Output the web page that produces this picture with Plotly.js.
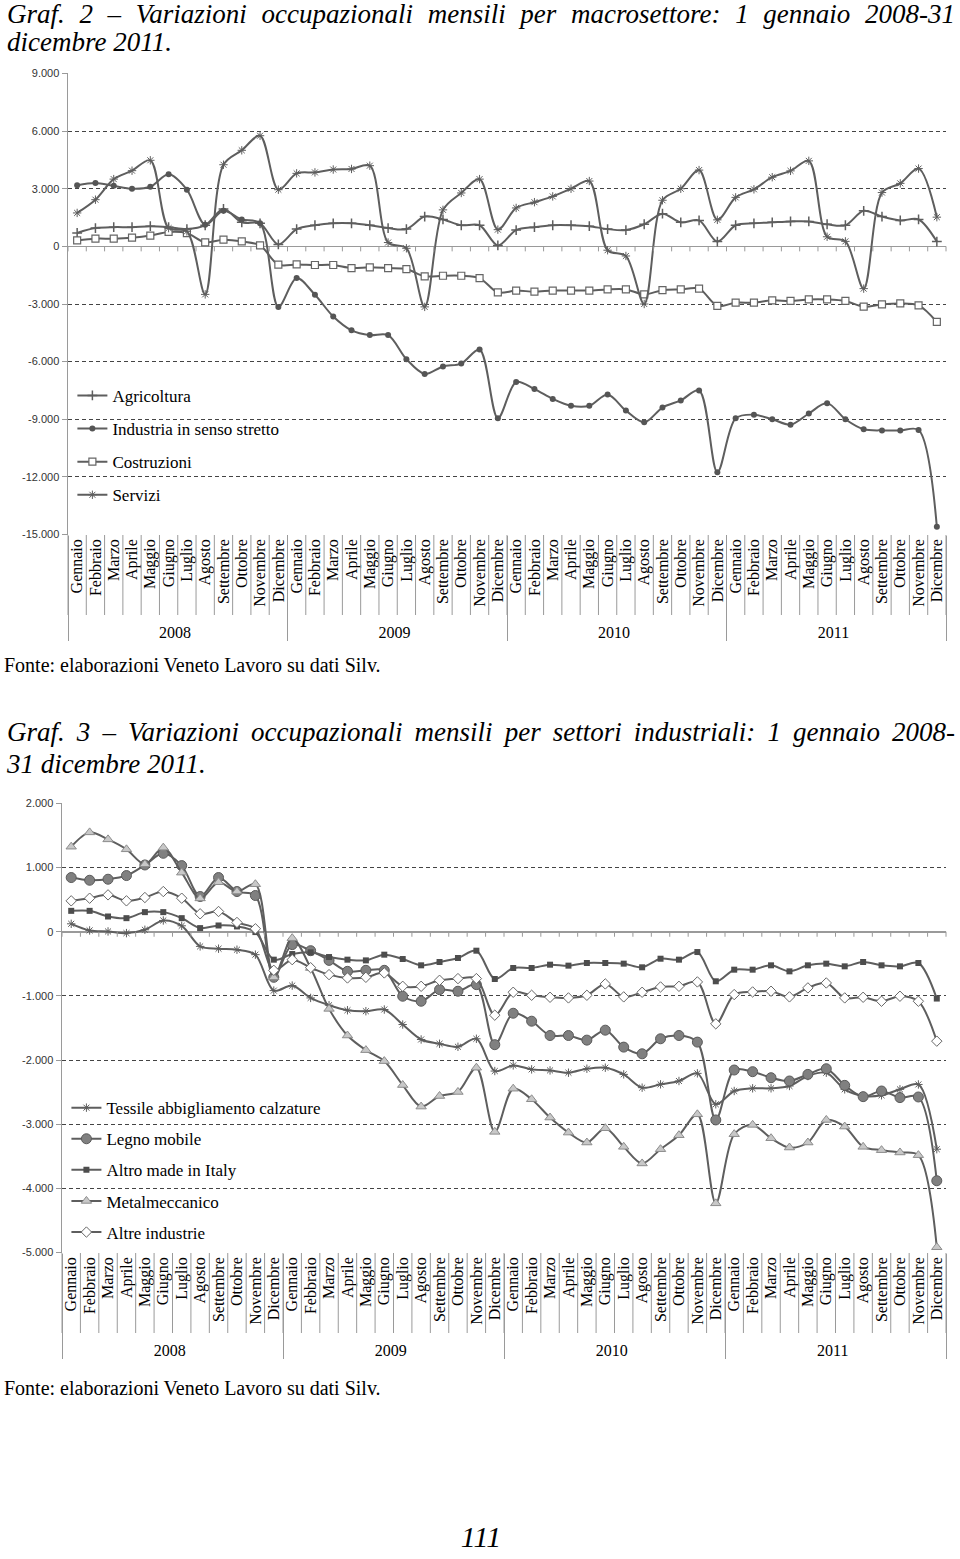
<!DOCTYPE html>
<html>
<head>
<meta charset="utf-8">
<script src="https://cdn.plot.ly/plotly-3.0.1.min.js"></script>
<style>
    body { margin: 0; width: 960px; height: 1559px; background: #fff; position: relative; overflow: hidden;
           font-family: "Liberation Serif", "Times New Roman", serif; color: #000; }
    .title { position: absolute; left: 7px; width: 948px; font-style: italic; font-size: 27px; line-height: 28px;
             text-align: justify; text-align-last: justify; }
    .title.last { text-align-last: left; }
    .fonte { position: absolute; left: 4px; font-size: 20px; line-height: 22px; }
    .chart { position: absolute; left: 0; width: 960px; }
    .page { position: absolute; left: 0; width: 962px; top: 1522px; text-align: center; font-style: italic; font-size: 30px; line-height: 30px; }
</style>
</head>
<body>
<div class="title" style="top:0px">Graf. 2 – Variazioni occupazionali mensili per macrosettore: 1 gennaio 2008-31</div>
<div class="title last" style="top:28px">dicembre 2011.</div>
<div id="graf2" class="chart" style="top:55px;height:595px"></div>
<div class="fonte" style="top:654px">Fonte: elaborazioni Veneto Lavoro su dati Silv.</div>

<div class="title" style="top:718px">Graf. 3 – Variazioni occupazionali mensili per settori industriali: 1 gennaio 2008-</div>
<div class="title last" style="top:750px">31 dicembre 2011.</div>
<div id="graf3" class="chart" style="top:785px;height:590px"></div>
<div class="fonte" style="top:1377px">Fonte: elaborazioni Veneto Lavoro su dati Silv.</div>

<div class="page">111</div>

<script>
// ---------------------------------------------------------------------------
// Dati
// ---------------------------------------------------------------------------
const months = ['Gennaio', 'Febbraio', 'Marzo', 'Aprile', 'Maggio', 'Giugno',
                'Luglio', 'Agosto', 'Settembre', 'Ottobre', 'Novembre', 'Dicembre'];
const years = ['2008', '2009', '2010', '2011'];

// Graf. 2 - macrosettori
const agricoltura = [
    700, 950, 1000, 1000, 1050, 1000, 900, 1100, 1950, 1250, 1200, 100,
    900, 1100, 1200, 1200, 1100, 950, 900, 1550, 1400, 1100, 1100, 50,
    850, 1000, 1100, 1100, 1050, 900, 850, 1150, 1700, 1250, 1350, 250,
    1100, 1200, 1250, 1300, 1300, 1150, 1100, 1850, 1550, 1350, 1400, 250
];
const industria = [
    3180, 3300, 3150, 3000, 3100, 3750, 2950, 1130, 1850, 1400, 1200, -3150,
    -1650, -2520, -3650, -4370, -4620, -4620, -5870, -6640, -6250, -6100, -5370, -8950,
    -7060, -7430, -7940, -8300, -8300, -7710, -8550, -9160, -8390, -8020, -7500, -11760,
    -8950, -8760, -9000, -9280, -8700, -8160, -9000, -9520, -9580, -9580, -9560, -14600
];
const costruzioni = [
    310, 400, 400, 450, 560, 750, 690, 210, 350, 260, 50, -950,
    -940, -970, -970, -1130, -1090, -1130, -1180, -1560, -1530, -1530, -1650, -2400,
    -2300, -2360, -2300, -2300, -2300, -2240, -2240, -2500, -2280, -2240, -2200, -3100,
    -2930, -2930, -2810, -2840, -2760, -2760, -2840, -3140, -3020, -2970, -3070, -3930
];
const servizi = [
    1740, 2430, 3500, 3940, 4480, 950, 780, -2500, 4250, 5000, 5760, 2950,
    3800, 3850, 4000, 4030, 4200, 200, -100, -3150, 1900, 2780, 3500, 870,
    2000, 2300, 2600, 3000, 3400, -200, -500, -3000, 2400, 3000, 3970, 1380,
    2550, 2970, 3600, 3930, 4450, 500, 260, -2200, 2800, 3280, 4050, 1520
];
const ticks2 = [9000, 6000, 3000, 0, -3000, -6000, -9000, -12000, -15000];

// Graf. 3 - settori industriali
const tessile = [
    124, 21, 5, -21, 31, 176, 93, -228, -264, -280, -357, -917,
    -839, -1031, -1145, -1223, -1238, -1212, -1446, -1679, -1746, -1793, -1668, -2171,
    -2083, -2145, -2161, -2197, -2135, -2119, -2223, -2430, -2378, -2326, -2207, -2689,
    -2482, -2440, -2440, -2404, -2249, -2197, -2456, -2560, -2549, -2456, -2380, -3389
];
const legno = [
    845, 803, 819, 876, 1041, 1223, 1031, 549, 845, 627, 565, -710,
    -200, -295, -446, -617, -601, -601, -1005, -1083, -902, -927, -824, -1760,
    -1270, -1394, -1617, -1617, -1689, -1534, -1798, -1902, -1668, -1617, -1720, -2933,
    -2155, -2181, -2275, -2326, -2223, -2135, -2394, -2570, -2482, -2585, -2575, -3881
];
const altroMade = [
    326, 326, 238, 212, 306, 306, 212, 57, 98, 83, -5, -435,
    -347, -321, -394, -435, -446, -357, -425, -523, -471, -409, -295, -736,
    -565, -565, -513, -528, -487, -487, -497, -554, -420, -435, -316, -772,
    -591, -591, -523, -617, -523, -497, -539, -471, -523, -539, -487, -1041
];
const metalmeccanico = [
    1326, 1549, 1440, 1285, 1052, 1311, 922, 520, 772, 627, 741, -710,
    -100, -565, -1202, -1617, -1845, -2016, -2389, -2725, -2560, -2497, -2119, -3119,
    -2446, -2611, -2896, -3130, -3285, -3062, -3352, -3611, -3389, -3171, -2845, -4233,
    -3155, -3010, -3218, -3363, -3285, -2933, -3036, -3352, -3404, -3440, -3482, -4917
];
const altreIndustrie = [
    482, 523, 575, 482, 534, 627, 523, 280, 316, 145, 47, -601,
    -435, -560, -668, -720, -710, -642, -850, -850, -756, -730, -730, -1300,
    -943, -990, -1021, -1031, -990, -813, -1015, -943, -860, -850, -782, -1435,
    -979, -938, -927, -1015, -875, -798, -1031, -1021, -1083, -1005, -1083, -1705
];
const ticks3 = [2000, 1000, 0, -1000, -2000, -3000, -4000, -5000];

// ---------------------------------------------------------------------------
// Stile
// ---------------------------------------------------------------------------
const SERIF = 'Liberation Serif, Times New Roman, serif';
const SANS = 'Liberation Sans, Arial, sans-serif';
const LINE = '#5e5e5e';
const AXIS = '#9a9a9a';

// two-level category axis: year / month
const xYears = [];
const xMonths = [];
years.forEach(y => months.forEach(m => { xYears.push(y); xMonths.push(m); }));

function fmt(v) {
    const s = String(Math.abs(v)).replace(/\B(?=(\d{3})+(?!\d))/g, '.');
    return (v < 0 ? '-' : '') + s;
}

function makeTrace(name, values, marker) {
    return {
        type: 'scatter',
        mode: 'lines+markers',
        name: name,
        legendgroup: name,
        x: [xYears, xMonths],
        y: values,
        line: { color: LINE, width: 2, shape: 'spline', smoothing: 0.9 },
        marker: marker
    };
}

function makeLayout(ticks, plotH, legendY, legendGap) {
    const n = xMonths.length;
    const shapes = [];
    // separators between month labels + small ticks on the zero line
    for (let k = 0; k <= n; k++) {
        shapes.push({
            type: 'line', xref: 'paper', yref: 'paper',
            x0: k / n, x1: k / n, y0: 0, y1: -80 / plotH,
            line: { color: AXIS, width: 1 }
        });
        shapes.push({
            type: 'line', xref: 'paper', yref: 'y', ysizemode: 'pixel', yanchor: 0,
            x0: k / n, x1: k / n, y0: 0, y1: -5,
            line: { color: AXIS, width: 1 }
        });
    }
    const top = ticks[0], bottom = ticks[ticks.length - 1];
    const pad = (top - bottom) * 0.001;
    return {
        paper_bgcolor: '#fff',
        plot_bgcolor: '#fff',
        showlegend: true,
        font: { family: SERIF, color: '#000' },
        xaxis: {
            type: 'multicategory',
            range: [-0.5, n - 0.5],
            tickmode: 'linear',
            tick0: 0,
            dtick: 1,
            tickangle: -90,
            tickfont: { family: SERIF, size: 16, color: '#000' },
            showdividers: true,
            dividercolor: AXIS,
            dividerwidth: 1,
            showgrid: false,
            zeroline: false,
            showline: false,
            ticks: ''
        },
        yaxis: {
            range: [bottom - pad, top + pad],
            tickvals: ticks,
            ticktext: ticks.map(fmt),
            showgrid: true,
            gridcolor: '#444',
            griddash: '4px,3px',
            gridwidth: 1,
            zeroline: true,
            zerolinecolor: AXIS,
            zerolinewidth: 1.5,
            showline: true,
            linecolor: AXIS,
            linewidth: 1.5,
            ticks: 'outside',
            ticklen: 5,
            tickcolor: AXIS,
            tickfont: { family: SANS, size: 11, color: '#333' }
        },
        legend: {
            x: 0.005, y: legendY, xanchor: 'left', yanchor: 'top',
            bgcolor: 'rgba(0,0,0,0)',
            font: { family: SERIF, size: 17, color: '#000' },
            tracegroupgap: legendGap,
            itemwidth: 30
        },
        shapes: shapes
    };
}

// ---------------------------------------------------------------------------
// Graf. 2
// ---------------------------------------------------------------------------
const traces2 = [
    makeTrace('Agricoltura', agricoltura,
        { symbol: 'cross-thin-open', size: 7, color: LINE, line: { color: LINE, width: 1.5 } }),
    makeTrace('Industria in senso stretto', industria,
        { symbol: 'circle', size: 6, color: '#555' }),
    makeTrace('Costruzioni', costruzioni,
        { symbol: 'square', size: 7, color: '#fff', line: { color: '#666', width: 1.2 } }),
    makeTrace('Servizi', servizi,
        { symbol: 'asterisk-open', size: 7, color: LINE, line: { color: '#666', width: 1 } })
];
const layout2 = makeLayout(ticks2, 462, 0.34, 8);
layout2.margin = { t: 18, b: 115, l: 68, r: 14 };
Plotly.newPlot('graf2', traces2, layout2, { staticPlot: true });

// ---------------------------------------------------------------------------
// Graf. 3
// ---------------------------------------------------------------------------
const traces3 = [
    makeTrace('Tessile abbigliamento calzature', tessile,
        { symbol: 'asterisk-open', size: 7, color: LINE, line: { color: '#555', width: 1 } }),
    makeTrace('Legno mobile', legno,
        { symbol: 'circle', size: 10, color: '#808080', line: { color: '#5a5a5a', width: 1 } }),
    makeTrace('Altro made in Italy', altroMade,
        { symbol: 'square', size: 6, color: '#4d4d4d' }),
    makeTrace('Metalmeccanico', metalmeccanico,
        { symbol: 'triangle-up', size: 9, color: '#c8c8c8', line: { color: '#8c8c8c', width: 1 } }),
    makeTrace('Altre industrie', altreIndustrie,
        { symbol: 'diamond', size: 8, color: '#fff', line: { color: '#666', width: 1 } })
];
const layout3 = makeLayout(ticks3, 450, 0.362, 6);
layout3.margin = { t: 18, b: 122, l: 62, r: 14 };
Plotly.newPlot('graf3', traces3, layout3, { staticPlot: true });
</script>
</body>
</html>
